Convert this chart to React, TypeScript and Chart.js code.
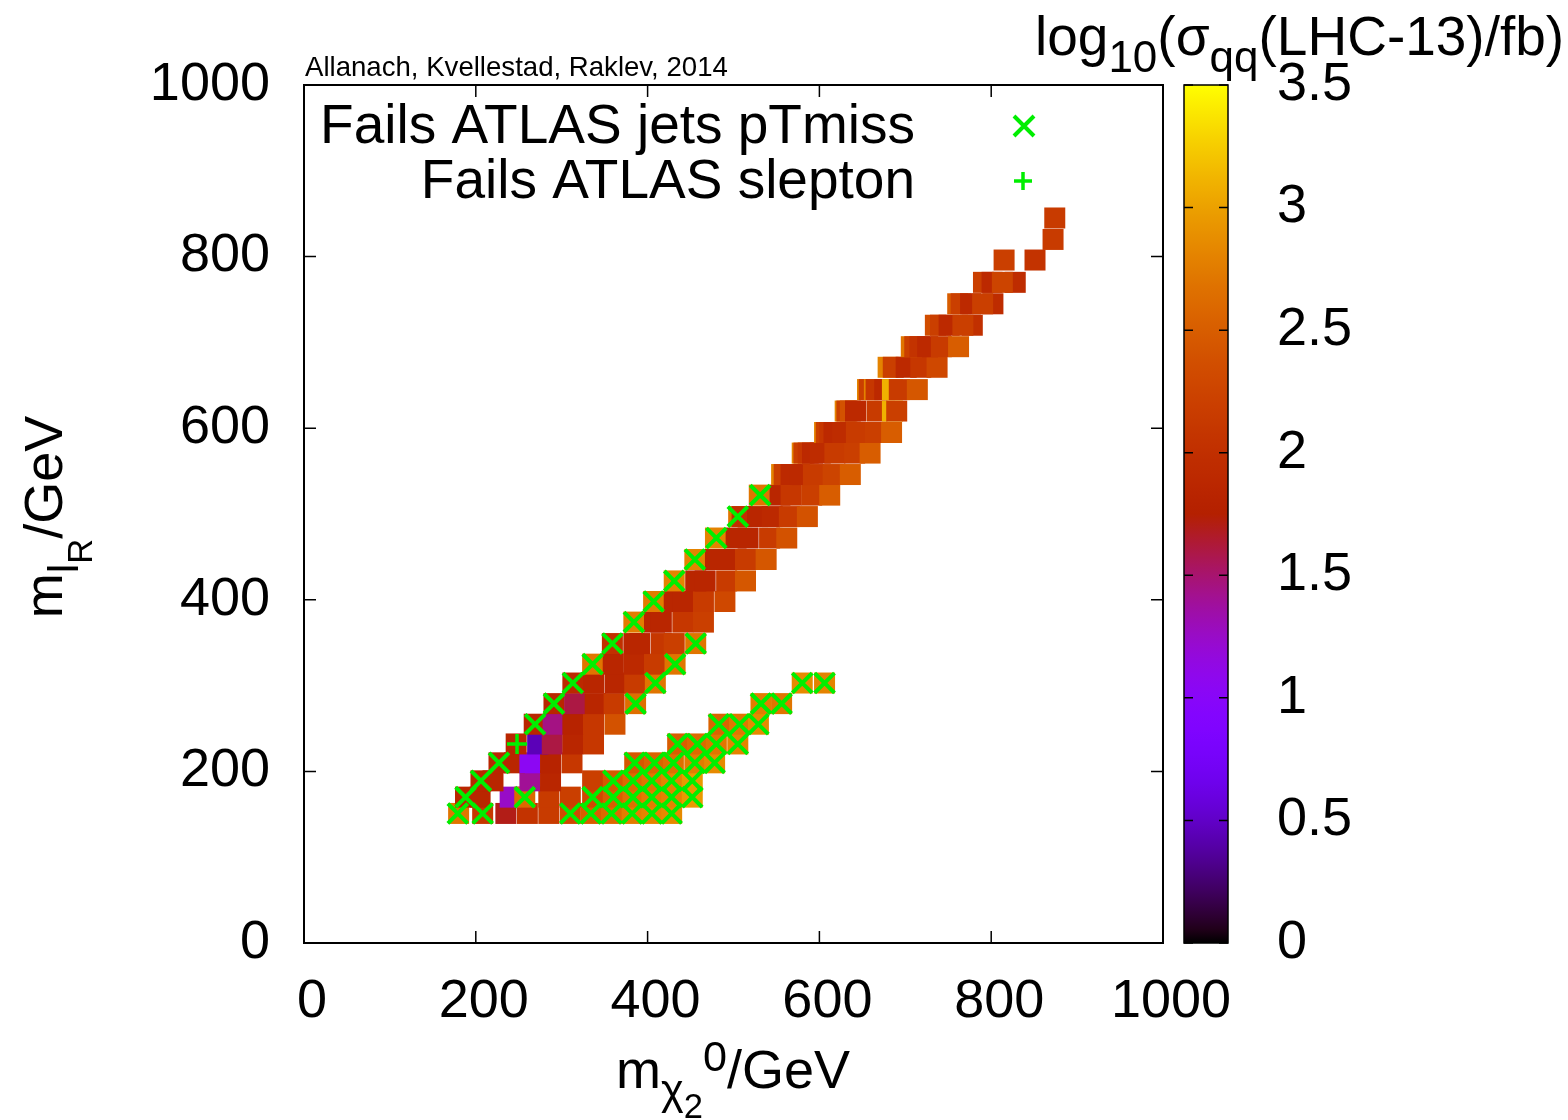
import React, { useEffect, useRef } from 'react';
import { Chart, registerables } from 'chart.js';

Chart.register(...registerables);

const FONT = '"Liberation Sans", Arial, Helvetica, sans-serif';
const GREEN = '#00ee00';

// Axis ticks
const xTickValues = [0, 200, 400, 600, 800, 1000];
const yTickValues = [0, 200, 400, 600, 800, 1000];
const cbTickValues = [0, 0.5, 1, 1.5, 2, 2.5, 3, 3.5];

// Heat-map squares, organised per row (y = m_lR), x = m_chi2^0, z = log10(sigma)
const rowY = [151, 170, 189, 210, 232, 255, 279, 303, 325, 349, 374, 398, 422, 447, 472, 497, 522, 546, 571, 595, 620, 645, 671, 695, 720, 745, 770, 796, 820, 845];
const rowX = [
  [180, 208, 235, 260, 285, 310, 334, 358, 382, 405, 428],
  [188, 205, 240, 257, 285, 310, 336, 360, 383, 405, 428, 452],
  [206, 220, 263, 287, 336, 360, 383, 405, 428, 452],
  [227, 245, 263, 287, 312, 385, 408, 430, 455, 478],
  [247, 272, 289, 313, 337, 435, 458, 480, 505],
  [268, 290, 313, 337, 362, 483, 507, 529],
  [291, 315, 339, 361, 386, 532, 556],
  [313, 337, 362, 385, 409, 580, 606],
  [336, 360, 384, 408, 432],
  [359, 384, 391, 416, 431, 456],
  [384, 408, 416, 441, 465],
  [407, 431, 441, 465, 490],
  [431, 456, 467, 492, 514],
  [455, 479, 492, 514, 538],
  [479, 503, 517, 542, 562],
  [506, 510, 528, 545, 565, 586],
  [530, 554, 567, 591, 612],
  [556, 559, 567, 577, 593, 616, 636],
  [580, 582, 587, 592, 601, 618, 641, 659],
  [606, 608, 612, 617, 627, 643, 665, 684],
  [630, 632, 636, 642, 667, 685, 690],
  [656, 658, 664, 666, 676, 685, 693, 714],
  [680, 686, 701, 718, 737],
  [707, 711, 717, 726, 742, 762],
  [735, 741, 751, 778, 767],
  [761, 765, 776, 802, 790],
  [791, 801, 828, 813],
  [815, 851],
  [872],
  [874],
];
const rowZ = [
  [2.7, 2.1, 1.7, 2.05, 2.15, 2.3, 2.5, 2.6, 2.75, 2.8, 2.85],
  [1.85, 1.85, 1.25, 2.6, 2.15, 2.2, 2.3, 2.5, 2.65, 2.75, 2.8, 2.95],
  [1.85, 1.85, 1.4, 1.85, 2.2, 2.45, 2.6, 2.7, 2.8, 2.95],
  [1.85, 1.85, 1.05, 1.8, 2.1, 2.45, 2.55, 2.65, 2.75, 2.85],
  [1.85, 0.45, 1.6, 1.85, 2.1, 2.5, 2.6, 2.7, 2.8],
  [1.85, 1.45, 1.8, 2.1, 2.4, 2.55, 2.7, 2.85],
  [1.85, 1.6, 1.85, 2.15, 2.65, 2.75, 2.7],
  [1.9, 1.85, 1.85, 2.15, 2.7, 2.85, 2.8],
  [2.7, 1.85, 1.9, 2.15, 2.7],
  [2.0, 1.85, 1.85, 2.1, 2.2, 2.7],
  [2.75, 1.85, 1.85, 2.1, 2.2],
  [2.75, 1.85, 1.85, 2.15, 2.3],
  [2.8, 1.85, 1.85, 2.15, 2.45],
  [2.8, 1.85, 1.85, 2.15, 2.45],
  [2.8, 1.85, 1.85, 2.15, 2.4],
  [2.7, 2.0, 1.85, 1.9, 2.15, 2.4],
  [2.7, 1.85, 2.1, 2.2, 2.5],
  [2.8, 2.2, 1.9, 1.9, 2.15, 2.25, 2.5],
  [2.8, 2.2, 2.1, 1.9, 1.95, 2.15, 2.2, 2.5],
  [2.8, 2.2, 2.1, 1.9, 1.95, 2.15, 2.2, 2.5],
  [2.8, 2.2, 2.4, 1.9, 2.15, 3.1, 2.2],
  [2.8, 2.2, 2.8, 2.1, 1.9, 3.1, 2.15, 2.45],
  [2.8, 2.2, 1.9, 2.1, 2.3],
  [2.7, 2.2, 2.05, 1.9, 2.15, 2.5],
  [2.35, 2.2, 1.9, 2.0, 2.2],
  [2.5, 2.2, 1.9, 1.95, 2.2],
  [2.2, 1.9, 1.95, 2.25],
  [2.2, 2.05],
  [2.15],
  [2.15],
];

// "Fails ATLAS jets pTmiss" markers, per row
const jetsRowY = [151, 170, 189, 210, 255, 279, 303, 325, 349, 374, 398, 422, 447, 472, 497, 522, 232];
const jetsRowX = [
  [179, 208, 310, 334, 358, 382, 405, 428],
  [188, 257, 336, 360, 383, 405, 428, 452],
  [206, 360, 383, 405, 428, 452],
  [227, 385, 408, 430, 455, 478],
  [269, 483, 507, 529],
  [291, 386, 532, 556],
  [313, 409, 580, 606],
  [336, 432],
  [359, 456],
  [384],
  [407],
  [431],
  [455],
  [480],
  [505],
  [531],
  [435, 458, 480, 505],
];

// "Fails ATLAS slepton" markers
const sleptonX = [248];
const sleptonY = [232];

const Z_MAX = 3.5;

function palette(z: number): string {
  const t = Math.min(1, Math.max(0, z / Z_MAX));
  const r = Math.sqrt(t);
  const g = t * t * t;
  const b = Math.max(0, Math.sin(2 * Math.PI * t));
  return `rgb(${Math.round(r * 255)},${Math.round(g * 255)},${Math.round(b * 255)})`;
}

type Seg = { t: string; s?: number; dy?: number };

function richWidth(ctx: CanvasRenderingContext2D, segs: Seg[], F: number) {
  let w = 0;
  for (const g of segs) {
    ctx.font = `${F * (g.s ?? 1)}px ${FONT}`;
    w += ctx.measureText(g.t).width;
  }
  return w;
}

function drawRich(ctx: CanvasRenderingContext2D, segs: Seg[], x: number, y: number, F: number) {
  let cx = x;
  for (const g of segs) {
    ctx.font = `${F * (g.s ?? 1)}px ${FONT}`;
    ctx.fillText(g.t, cx, y + (g.dy ?? 0) * F);
    cx += ctx.measureText(g.t).width;
  }
}

const BIG = 54;
const TITLE = 55;

const overlayPlugin = {
  id: 'overlay',
  afterDatasetsDraw(chart: any) {
    const ctx: CanvasRenderingContext2D = chart.ctx;
    const a = chart.chartArea;
    const xs = chart.scales.x;
    const ys = chart.scales.y;
    const cb = chart.scales.cb;
    ctx.save();

    // plot frame
    ctx.strokeStyle = '#000';
    ctx.lineWidth = 2;
    ctx.strokeRect(a.left, a.top, a.right - a.left, a.bottom - a.top);

    // inward ticks on all four sides
    const TL = 12;
    ctx.lineWidth = 1.5;
    ctx.beginPath();
    for (const v of xTickValues) {
      const px = xs.getPixelForValue(v);
      ctx.moveTo(px, a.bottom);
      ctx.lineTo(px, a.bottom - TL);
      ctx.moveTo(px, a.top);
      ctx.lineTo(px, a.top + TL);
    }
    for (const v of yTickValues) {
      const py = ys.getPixelForValue(v);
      ctx.moveTo(a.left, py);
      ctx.lineTo(a.left + TL, py);
      ctx.moveTo(a.right, py);
      ctx.lineTo(a.right - TL, py);
    }
    ctx.stroke();

    // colour bar
    const cbL = a.right + 21;
    const cbR = a.right + 65;
    const cbTop = cb.getPixelForValue(Z_MAX);
    const cbBot = cb.getPixelForValue(0);
    const grad = ctx.createLinearGradient(0, cbBot, 0, cbTop);
    for (let i = 0; i <= 64; i++) {
      const f = i / 64;
      grad.addColorStop(f, palette(f * Z_MAX));
    }
    ctx.fillStyle = grad;
    ctx.fillRect(cbL, cbTop, cbR - cbL, cbBot - cbTop);
    ctx.lineWidth = 1.5;
    ctx.strokeStyle = '#000';
    ctx.strokeRect(cbL, cbTop, cbR - cbL, cbBot - cbTop);
    ctx.beginPath();
    for (const v of cbTickValues) {
      const py = cb.getPixelForValue(v);
      ctx.moveTo(cbL, py);
      ctx.lineTo(cbL + 9, py);
      ctx.moveTo(cbR, py);
      ctx.lineTo(cbR - 9, py);
    }
    ctx.stroke();

    ctx.fillStyle = '#000';
    ctx.textBaseline = 'alphabetic';

    // credit line
    ctx.textAlign = 'left';
    ctx.font = `27.6px ${FONT}`;
    ctx.fillText('Allanach, Kvellestad, Raklev, 2014', a.left + 1, 76);

    // legend
    const ds = chart.data.datasets;
    ctx.textAlign = 'right';
    ctx.font = `${TITLE}px ${FONT}`;
    ctx.fillText(ds[0].label, 915, 143);
    ctx.fillText(ds[1].label, 915, 198);
    ctx.strokeStyle = GREEN;
    ctx.lineWidth = 4;
    ctx.beginPath();
    ctx.moveTo(1014, 116); ctx.lineTo(1034, 136);
    ctx.moveTo(1034, 116); ctx.lineTo(1014, 136);
    ctx.stroke();
    ctx.lineWidth = 3.5;
    ctx.beginPath();
    ctx.moveTo(1014, 181); ctx.lineTo(1032, 181);
    ctx.moveTo(1023, 172); ctx.lineTo(1023, 190);
    ctx.stroke();

    // axis titles
    ctx.textAlign = 'left';
    const xTitle: Seg[] = [
      { t: 'm' },
      { t: 'χ', s: 0.8, dy: 0.3 },
      { t: '2', s: 0.64, dy: 0.55 },
      { t: '0', s: 0.8, dy: -0.32 },
      { t: '/GeV' },
    ];
    const xw = richWidth(ctx, xTitle, BIG);
    drawRich(ctx, xTitle, 733 - xw / 2, 1088, BIG);

    const yTitle: Seg[] = [
      { t: 'm' },
      { t: 'l', s: 0.8, dy: 0.3 },
      { t: 'R', s: 0.64, dy: 0.55 },
      { t: '/GeV' },
    ];
    const yw = richWidth(ctx, yTitle, BIG);
    ctx.save();
    ctx.translate(62, 517);
    ctx.rotate(-Math.PI / 2);
    drawRich(ctx, yTitle, -yw / 2, 0, BIG);
    ctx.restore();

    const cTitle: Seg[] = [
      { t: 'log' },
      { t: '10', s: 0.8, dy: 0.3 },
      { t: '(σ' },
      { t: 'qq', s: 0.8, dy: 0.3 },
      { t: '(LHC-13)/fb)' },
    ];
    drawRich(ctx, cTitle, 1035, 55, TITLE);

    ctx.restore();
  },
};

export default function App() {
  const ref = useRef<HTMLCanvasElement>(null);

  useEffect(() => {
    const canvas = ref.current;
    if (!canvas) return;

    const squarePts: { x: number; y: number }[] = [];
    const squareCols: string[] = [];
    rowY.forEach((y, i) => {
      rowX[i].forEach((x, j) => {
        squarePts.push({ x, y });
        squareCols.push(palette(rowZ[i][j]));
      });
    });
    const jetsPts: { x: number; y: number }[] = [];
    jetsRowY.forEach((y, i) => jetsRowX[i].forEach((x) => jetsPts.push({ x, y })));
    const slPts = sleptonX.map((x, i) => ({ x, y: sleptonY[i] }));

    const tickFont = { size: BIG, family: FONT };

    const fixVertical = (w: number) => (s: any) => {
      s.width = w;
      s.paddingTop = 0;
      s.paddingBottom = 0;
    };

    const chart = new Chart(canvas, {
      type: 'scatter',
      data: {
        datasets: [
          {
            label: 'Fails ATLAS jets pTmiss',
            data: jetsPts,
            pointStyle: 'crossRot',
            pointRadius: 14,
            borderWidth: 4,
            borderColor: GREEN,
            backgroundColor: GREEN,
            order: 0,
          },
          {
            label: 'Fails ATLAS slepton',
            data: slPts,
            pointStyle: 'cross',
            pointRadius: 10,
            borderWidth: 3.5,
            borderColor: GREEN,
            backgroundColor: GREEN,
            order: 1,
          },
          {
            label: 'log10 sigma',
            data: squarePts,
            pointStyle: 'rect',
            pointRadius: 14.85,
            borderWidth: 0,
            backgroundColor: squareCols,
            order: 2,
          },
        ],
      } as any,
      options: {
        responsive: false,
        animation: false,
        devicePixelRatio: 1,
        events: [],
        layout: { padding: { top: 85, left: 0, right: 0, bottom: 0 } },
        plugins: { legend: { display: false }, tooltip: { enabled: false }, title: { display: false } },
        scales: {
          x: {
            type: 'linear',
            position: 'bottom',
            min: 0,
            max: 1000,
            grid: { display: false },
            border: { display: false },
            ticks: {
              stepSize: 200,
              autoSkip: false,
              maxRotation: 0,
              padding: 19,
              labelOffset: 8,
              color: '#000',
              font: tickFont,
              callback: (v: any) => String(v),
            },
            afterFit: (s: any) => {
              s.height = 177;
              s.paddingLeft = 0;
              s.paddingRight = 0;
            },
          },
          y: {
            type: 'linear',
            position: 'left',
            min: 0,
            max: 1000,
            grid: { display: false },
            border: { display: false },
            ticks: {
              stepSize: 200,
              autoSkip: false,
              padding: 26,
              color: '#000',
              font: tickFont,
              callback: (v: any) => String(v),
            },
            afterFit: fixVertical(304),
          },
          cb: {
            type: 'linear',
            axis: 'y',
            position: 'right',
            min: 0,
            max: Z_MAX,
            grid: { display: false },
            border: { display: false },
            ticks: {
              stepSize: 0.5,
              autoSkip: false,
              padding: 106,
              color: '#000',
              font: tickFont,
              callback: (v: any) => String(v),
            },
            afterFit: fixVertical(405),
          },
        },
      } as any,
      plugins: [overlayPlugin],
    });

    return () => chart.destroy();
  }, []);

  return (
    <div style={{ position: 'absolute', left: 0, top: 0, width: 1568, height: 1120, background: '#fff' }}>
      <canvas ref={ref} width={1568} height={1120} style={{ display: 'block', width: 1568, height: 1120 }} />
    </div>
  );
}
